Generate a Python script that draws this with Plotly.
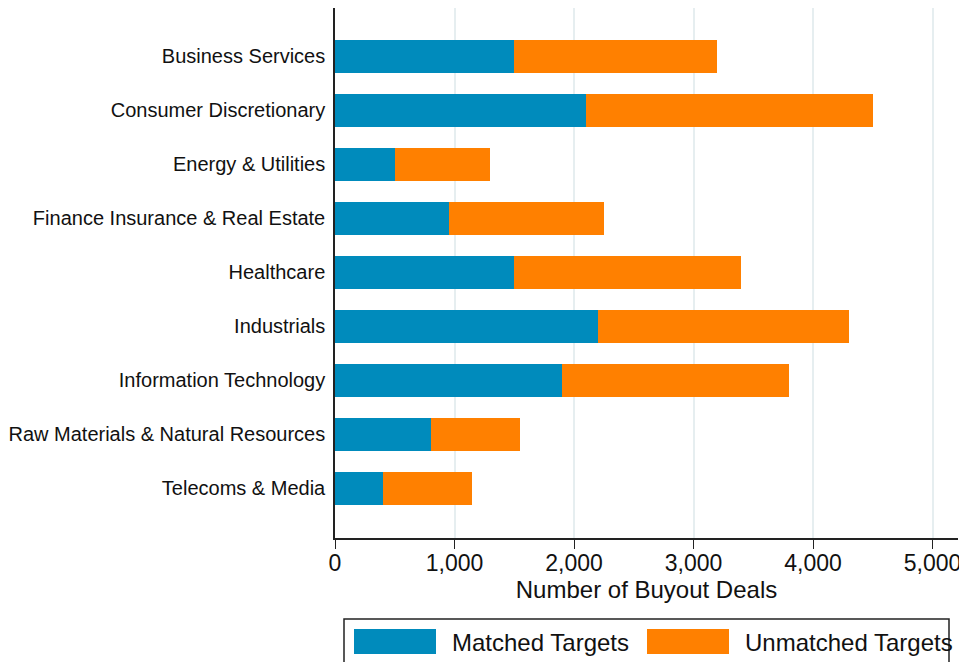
import plotly.graph_objects as go

categories = ["Business Services", "Consumer Discretionary", "Energy & Utilities",
              "Finance Insurance & Real Estate", "Healthcare", "Industrials",
              "Information Technology", "Raw Materials & Natural Resources",
              "Telecoms & Media"]
matched = [1500, 2100, 500, 950, 1500, 2200, 1900, 800, 400]
unmatched = [1700, 2400, 800, 1300, 1900, 2100, 1900, 750, 750]
series_names = ["Matched Targets", "Unmatched Targets"]
x_ticks = [0, 1000, 2000, 3000, 4000, 5000]
x_title = "Number of Buyout Deals"

BLUE = "#008BBC"
ORANGE = "#FF8000"
FONT = "Liberation Sans, Arial, Helvetica, sans-serif"

OFF = 8  # page body margin
W, H = 959, 654
# plot area in screen pixels: x 335..958, y 8..538
SL, SR, ST, SB = 335, 958, 8, 538
L, T = SL - OFF, ST - OFF
R = W - (SR - OFF)
B = H - (SB - OFF)
PW, PH = SR - SL, SB - ST


def px(x):
    return (x - SL) / PW


def py(y):
    return (SB - y) / PH


fig = go.Figure()
fig.add_trace(go.Bar(y=categories, x=matched, orientation="h", name=series_names[0],
                     marker=dict(color=BLUE, line=dict(width=0)), width=0.61))
fig.add_trace(go.Bar(y=categories, x=unmatched, orientation="h", name=series_names[1],
                     marker=dict(color=ORANGE, line=dict(width=0)), width=0.61))

fig.update_layout(
    barmode="stack",
    width=W, height=H,
    margin=dict(l=L, r=R, t=T, b=B, pad=0),
    paper_bgcolor="white", plot_bgcolor="white",
    showlegend=False,
    font=dict(family=FONT, color="#111111"),
    xaxis=dict(range=[0, 5213], tickvals=x_ticks, tickformat=",d",
               showgrid=True, gridcolor="#E6EEF0", gridwidth=2,
               zeroline=False, showline=True, linecolor="#222222", linewidth=1.5,
               ticks="outside", ticklen=9, tickwidth=1.2, tickcolor="#222222",
               ticklabelstandoff=-5,
               tickfont=dict(size=23, family=FONT, color="#111111"),
               title=dict(text=x_title, font=dict(size=24, family=FONT, color="#111111"),
                          standoff=4)),
    yaxis=dict(categoryorder="array", categoryarray=categories,
               range=[8.917, -0.898],
               showgrid=False, zeroline=False, showline=True,
               linecolor="#222222", linewidth=1.5,
               ticks="outside", ticklen=4, tickcolor="rgba(0,0,0,0)",
               tickfont=dict(size=20, family=FONT, color="#111111")),
)

# custom legend (wide swatches, boxed)
fig.add_shape(type="rect", xref="paper", yref="paper",
              x0=px(344), x1=px(949), y0=py(619), y1=py(720),
              line=dict(color="#222222", width=1.5), fillcolor="rgba(0,0,0,0)")
for (x0, x1, tx, col, name) in [(354, 436, 450, BLUE, series_names[0]),
                                (647, 729, 743, ORANGE, series_names[1])]:
    fig.add_shape(type="rect", xref="paper", yref="paper",
                  x0=px(x0), x1=px(x1), y0=py(629), y1=py(654),
                  line=dict(width=0), fillcolor=col)
    fig.add_annotation(xref="paper", yref="paper", x=px(tx), y=py(642),
                       xanchor="left", yanchor="middle", showarrow=False,
                       text=name, font=dict(size=24, family=FONT, color="#111111"))

fig.write_html("out.html")
